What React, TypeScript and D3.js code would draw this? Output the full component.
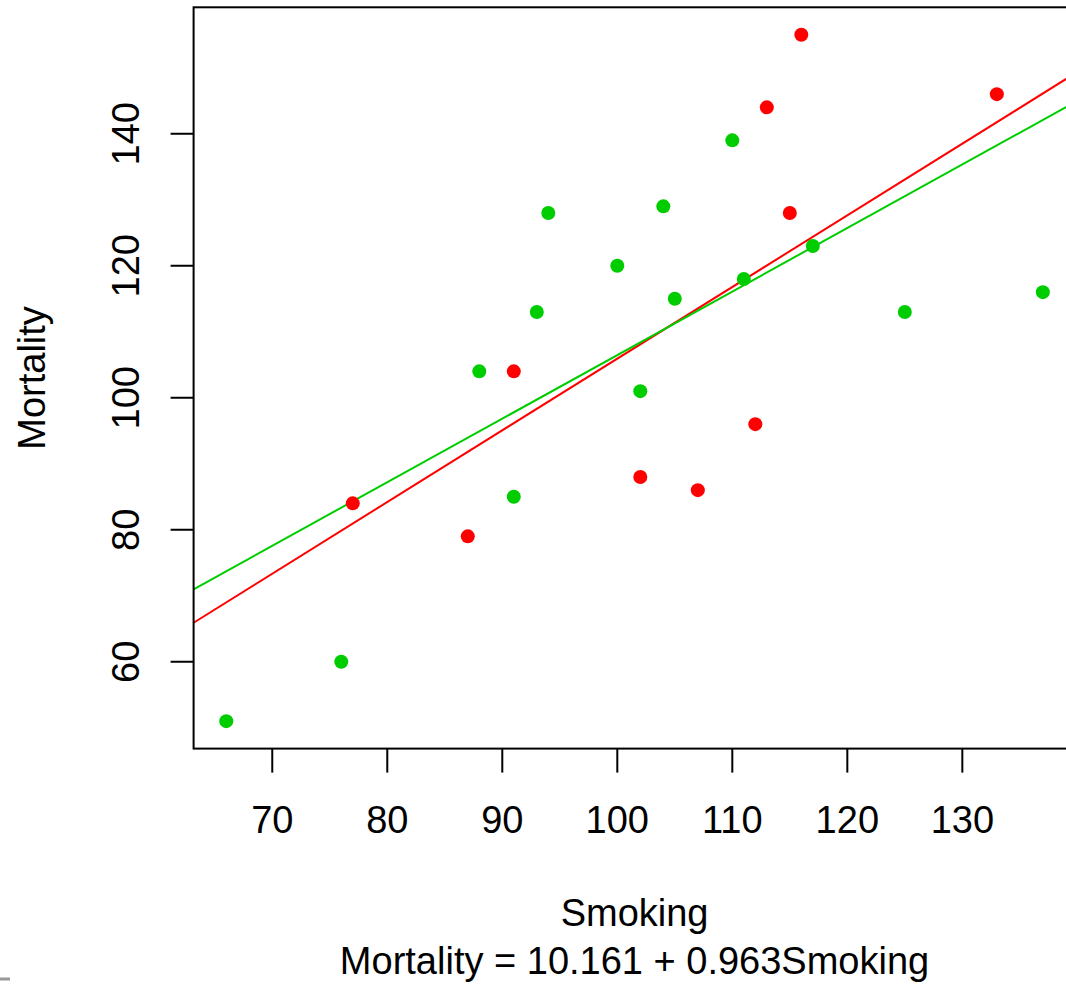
import React from "react";
import * as d3 from "d3";

const greenSmoking = [66, 76, 88, 91, 93, 94, 100, 102, 104, 105, 110, 111, 117, 125, 137];
const greenMortality = [51, 60, 104, 85, 113, 128, 120, 101, 129, 115, 139, 118, 123, 113, 116];
const redSmoking = [77, 87, 91, 102, 107, 112, 113, 115, 116, 133];
const redMortality = [84, 79, 104, 88, 86, 96, 144, 128, 155, 146];

const xTicks = [70, 80, 90, 100, 110, 120, 130];
const yTicks = [60, 80, 100, 120, 140];

// fitted lines: [intercept, slope]
const greenFit = [10.161, 0.963];
const redFit = [-2.68, 1.086];

const W = 1066;
const H = 985;
const FONT = "'Liberation Sans', Arial, Helvetica, sans-serif";

export default function App() {
  const allX = [...greenSmoking, ...redSmoking];
  const allY = [...greenMortality, ...redMortality];
  const [xmin, xmax] = d3.extent(allX) as [number, number];
  const [ymin, ymax] = d3.extent(allY) as [number, number];
  const xpad = (xmax - xmin) * 0.04;
  const ypad = (ymax - ymin) * 0.04;

  const x = d3.scaleLinear().domain([xmin - xpad, xmax + xpad]).range([193.6, 1075.5]);
  const y = d3.scaleLinear().domain([ymin - ypad, ymax + ypad]).range([748.6, 7.3]);

  const [x0, x1] = x.domain();
  const [px0, px1] = x.range();
  const [py0, py1] = y.range();
  const cx = (px0 + px1) / 2;
  const cy = (py0 + py1) / 2;

  const lineFor = (fit: number[]) =>
    d3.line<number>().x((d) => x(d)).y((d) => y(fit[0] + fit[1] * d))([x0, x1]) || "";

  return (
    <svg
      width={W}
      height={H}
      style={{ position: "absolute", left: 0, top: 0, display: "block", background: "white" }}
      fontFamily={FONT}
    >
      <defs>
        <clipPath id="plotclip">
          <rect x={px0} y={py1} width={px1 - px0} height={py0 - py1} />
        </clipPath>
      </defs>
      <rect x={0} y={0} width={W} height={H} fill="white" />

      <g clipPath="url(#plotclip)">
        <path d={lineFor(redFit)} stroke="#FF0000" strokeWidth={2} fill="none" />
        <path d={lineFor(greenFit)} stroke="#00CD00" strokeWidth={2} fill="none" />
      </g>

      {greenSmoking.map((s, i) => (
        <circle key={"g" + i} cx={x(s)} cy={y(greenMortality[i])} r={7} fill="#00CD00" />
      ))}
      {redSmoking.map((s, i) => (
        <circle key={"r" + i} cx={x(s)} cy={y(redMortality[i])} r={7} fill="#FF0000" />
      ))}

      <rect
        x={px0}
        y={py1}
        width={px1 - px0}
        height={py0 - py1}
        fill="none"
        stroke="black"
        strokeWidth={2}
      />

      {xTicks.map((t) => (
        <g key={"xt" + t}>
          <line x1={x(t)} x2={x(t)} y1={py0} y2={py0 + 24} stroke="black" strokeWidth={2} />
          <text x={x(t)} y={833} fontSize={38} textAnchor="middle" fill="black">
            {t}
          </text>
        </g>
      ))}
      {yTicks.map((t) => (
        <g key={"yt" + t}>
          <line x1={px0 - 23} x2={px0} y1={y(t)} y2={y(t)} stroke="black" strokeWidth={2} />
          <text
            transform={`translate(139,${y(t)}) rotate(-90)`}
            fontSize={38}
            textAnchor="middle"
            fill="black"
          >
            {t}
          </text>
        </g>
      ))}

      <text
        transform={`translate(45,${cy}) rotate(-90)`}
        fontSize={38}
        textAnchor="middle"
        fill="black"
      >
        Mortality
      </text>
      <text x={cx} y={926} fontSize={38} textAnchor="middle" fill="black">
        Smoking
      </text>
      <text x={cx} y={974} fontSize={38} textAnchor="middle" fill="black">
        {`Mortality = ${greenFit[0].toFixed(3)} + ${greenFit[1].toFixed(3)}Smoking`}
      </text>

      <line x1={0} x2={10} y1={979} y2={979} stroke="#999999" strokeWidth={3} />
    </svg>
  );
}
